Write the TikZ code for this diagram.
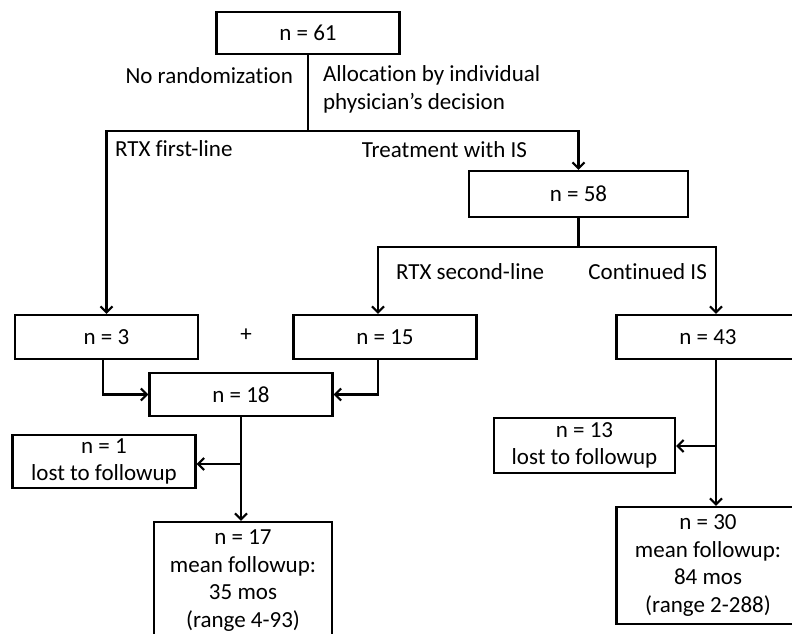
\documentclass[tikz,border=0pt]{standalone}
\usepackage{fontspec}
\setmainfont{Carlito}[Ligatures=NoCommon]
\usetikzlibrary{arrows.meta}

\begin{document}
\begin{tikzpicture}[x=1pt,y=-1pt,line width=2.2pt,
  box/.style={draw,rectangle,minimum width=183pt,minimum height=44pt,inner sep=0pt,align=center},
  lbl/.style={inner sep=0pt,align=left},
  >={Straight Barb[length=6pt,width=12pt]}]
\fontsize{23}{27.5}\selectfont
\useasboundingbox (0,0) rectangle (792,634);

\node[box,minimum height=42pt]   (N61) at (308,33)    {n = 61};
\node[box,minimum width=219pt,minimum height=46pt] (N58) at (578.5,194) {n = 58};
\node[box]                       (N3)  at (106.5,337) {n = 3};
\node[box]                       (N15) at (385,337)   {n = 15};
\node[box]                       (N43) at (708,337)   {n = 43};
\node[box,minimum height=43pt]   (N18) at (241,394.5) {n = 18};
\node[box,minimum height=53pt]   (N1)  at (104,461.5) {n = 1\\lost to followup};
\node[box,minimum width=181pt,minimum height=55pt] (N13) at (584.5,445.5) {n = 13\\lost to followup};
\node[box,minimum width=178pt,minimum height=117pt] (N17) at (243,580.5) {n = 17\\mean followup:\\35 mos\\(range 4-93)};
\node[box,minimum height=117pt]  (N30) at (708,565.5) {n = 30\\mean followup:\\84 mos\\(range 2-288)};

\node[lbl,anchor=east]  (noran) at (294,76)   {No randomization};
\node[lbl,anchor=west]  (alloc) at (322,89.5) {Allocation by individual\\physician’s decision};
\node[lbl,anchor=west]  (rtx1)  at (114,149)  {RTX first-line};
\node[lbl,anchor=east]  (treat) at (528,150)  {Treatment with IS};
\node[lbl,anchor=west]  (rtx2)  at (395,272)  {RTX second-line};
\node[lbl,anchor=east]  (cont)  at (708,272)  {Continued IS};
\node[lbl]              (plus)  at (246,335)  {+};

\coordinate (S1) at (308,131);
\coordinate (S2) at (578.5,247);
\coordinate (B1) at (241,464);
\coordinate (B2) at (716,446);

\draw (N61) -- (S1);
\draw[->] (S1) -| (N3.north);
\draw[->] (S1) -| (N58.north);
\draw (N58) -- (S2);
\draw[->] (S2) -| ([xshift=-7pt]N15.north);
\draw[->] (S2) -| ([xshift=8pt]N43.north);
\draw[->] ([xshift=-3.5pt]N3.south) |- (N18.west);
\draw[->] ([xshift=-7pt]N15.south) |- (N18.east);
\draw[->] (N18.south) -- (N18.south |- N17.north);
\draw[->] (B1) -- (B1 -| N1.east);
\draw[->] ([xshift=8pt]N43.south) -- ([xshift=8pt]N30.north);
\draw[->] (B2) -- (B2 -| N13.east);
\end{tikzpicture}
\end{document}
